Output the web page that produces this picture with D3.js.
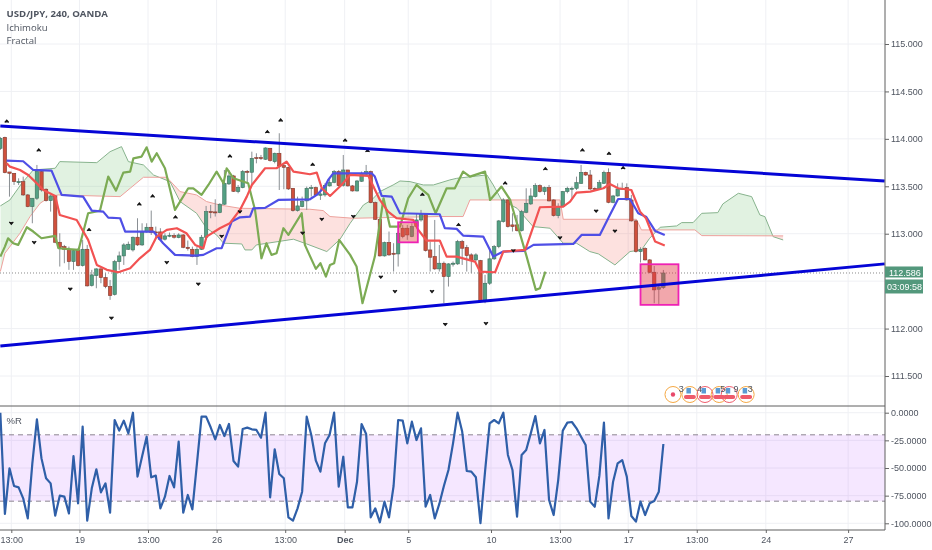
<!DOCTYPE html>
<html>
<meta charset="utf-8">
<head>
  <script src="https://d3js.org/d3.v7.min.js"></script>
  <style>
  html, body { margin: 0; padding: 0; background: #fff; }
  svg { display: block; filter: blur(0.35px); }
  text { font-family: "Liberation Sans", Arial, sans-serif; fill: #4f5560; }
  .legend { font-family: "Open Sans", sans-serif; font-size: 9.6px; }
  .axis text { font-size: 9px; }
  .axis .tick line { stroke: #666; }
  .axis .domain { display: none; }
  .grid line { stroke: #eff0f4; stroke-width: 1; }
  .thick { fill: none; stroke-width: 2.2; stroke-linejoin: round; }
  .thin { fill: none; stroke-width: 1; }
  </style>
</head>
<body>
<svg id="chart" width="932" height="550"></svg>
<script>

var title = "USD/JPY, 240, OANDA"
var studies = ["Ichimoku", "Fractal"]
var lastPrice = 112.586
var countdown = "03:09:58"

/* 4h candles, one per bar */
var open = [113.90,114.016,113.651,113.637,113.546,113.549,113.409,113.286,113.374,113.655,
113.469,113.349,113.398,112.910,112.864,112.836,112.706,112.829,112.664,112.836,
112.454,112.559,112.629,112.538,112.443,112.359,112.706,112.766,112.836,112.829,
112.963,112.882,113.019,113.068,113.019,113.019,112.942,112.977,112.980,112.959,
112.987,112.857,112.836,112.759,112.836,112.963,113.233,113.230,113.223,113.311,
113.525,113.609,113.444,113.486,113.658,113.648,113.802,113.802,113.785,113.901,
113.760,113.848,113.718,113.700,113.479,113.244,113.286,113.346,113.476,113.486,
113.405,113.409,113.504,113.542,113.655,113.511,113.672,113.504,113.451,113.553,
113.627,113.655,113.328,113.152,112.766,112.907,112.794,112.787,113.058,113.058,
112.970,113.075,113.145,113.205,112.829,112.759,112.629,112.689,112.548,112.678,
112.682,112.917,112.854,112.777,112.724,112.717,112.292,112.478,112.735,112.864,
113.128,113.356,113.093,113.093,113.033,113.226,113.314,113.391,113.507,113.444,
113.486,113.356,113.191,113.286,113.444,113.472,113.479,113.531,113.647,113.619,
113.479,113.472,113.531,113.647,113.331,113.398,113.472,113.486,113.356,113.135,
112.812,112.843,112.724,112.594,112.415,112.432]
var close = [114.006,113.644,113.637,113.549,113.549,113.409,113.286,113.374,113.655,113.461,
113.349,113.398,112.910,112.854,112.836,112.706,112.822,112.664,112.836,112.450,
112.566,112.629,112.538,112.443,112.348,112.706,112.766,112.882,112.889,112.963,
112.882,113.015,113.068,113.015,113.012,112.942,112.977,112.984,112.963,112.987,
112.857,112.843,112.759,112.836,112.963,113.233,113.223,113.219,113.311,113.532,
113.609,113.447,113.490,113.655,113.648,113.795,113.792,113.792,113.904,113.771,
113.848,113.714,113.700,113.472,113.244,113.293,113.339,113.479,113.486,113.409,
113.419,113.507,113.539,113.655,113.507,113.672,113.504,113.451,113.556,113.637,
113.655,113.328,113.152,112.766,112.907,112.777,112.787,113.005,112.970,112.987,
113.075,113.145,113.205,112.822,112.752,112.629,112.689,112.548,112.682,112.689,
112.917,112.847,112.770,112.724,112.777,112.292,112.478,112.735,112.864,113.135,
113.356,113.075,113.075,113.033,113.233,113.321,113.398,113.507,113.444,113.486,
113.346,113.191,113.286,113.444,113.479,113.479,113.538,113.647,113.619,113.472,
113.468,113.538,113.647,113.331,113.398,113.472,113.479,113.356,113.135,112.812,
112.836,112.724,112.594,112.408,112.432,112.586]
var high = [114.02,114.023,113.651,113.637,113.584,113.602,113.419,113.374,113.725,113.672,
113.479,113.409,113.409,113.005,112.882,112.864,112.836,112.847,112.935,112.882,
112.619,112.636,112.636,112.584,112.513,112.724,112.812,112.900,112.917,112.970,
113.163,113.110,113.110,113.244,113.075,113.058,113.005,113.012,113.005,113.005,
112.998,112.928,112.864,112.864,112.987,113.293,113.303,113.363,113.321,113.672,
113.672,113.620,113.514,113.672,113.672,113.865,113.848,113.830,113.911,113.904,
113.855,114.059,113.742,113.707,113.479,113.391,113.391,113.497,113.514,113.497,
113.479,113.532,113.584,113.672,113.672,113.830,113.672,113.514,113.567,113.655,
113.725,113.665,113.339,113.163,112.917,113.023,112.900,113.023,113.093,113.093,
113.110,113.216,113.251,113.205,112.917,113.145,112.882,112.707,112.689,112.707,
112.935,112.935,112.882,112.794,112.794,112.724,112.566,112.847,112.882,113.145,
113.374,113.363,113.216,113.198,113.251,113.479,113.479,113.532,113.521,113.497,
113.514,113.363,113.321,113.451,113.496,113.496,113.602,113.725,113.654,113.672,
113.489,113.567,113.665,113.689,113.409,113.531,113.538,113.531,113.409,113.145,
112.857,112.857,112.731,112.660,112.460,112.618]
var low = [113.883,113.637,113.391,113.514,113.514,113.398,113.279,113.110,113.356,113.444,
113.339,113.233,112.900,112.654,112.689,112.619,112.619,112.654,112.654,112.443,
112.443,112.425,112.478,112.425,112.303,112.348,112.619,112.671,112.829,112.812,
112.871,112.871,113.012,112.987,112.952,112.935,112.928,112.963,112.949,112.952,
112.847,112.822,112.752,112.671,112.829,112.935,113.163,113.181,113.216,113.303,
113.514,113.440,113.426,113.479,113.532,113.514,113.742,113.778,113.778,113.760,
113.742,113.461,113.469,113.461,113.233,113.233,113.279,113.251,113.391,113.398,
113.356,113.391,113.497,113.532,113.497,113.497,113.497,113.444,113.444,113.546,
113.620,113.321,113.145,112.759,112.759,112.766,112.601,112.654,112.952,112.935,
112.963,113.058,113.128,112.812,112.601,112.619,112.601,112.267,112.443,112.654,
112.671,112.671,112.601,112.584,112.706,112.285,112.267,112.460,112.724,112.847,
113.117,113.065,113.023,113.023,113.023,113.216,113.303,113.381,113.433,113.409,
113.339,113.181,113.163,113.279,113.426,113.373,113.461,113.524,113.609,113.461,
113.461,113.461,113.524,113.321,113.321,113.391,113.461,113.349,113.128,112.801,
112.696,112.717,112.583,112.267,112.260,112.418]

/* Williams %R, one per bar */
var willr = [0,-91.6,-50.3,-66.3,-67.5,-77.4,-95.5,-45.8,-6,-41.3,
-59.3,-63.9,-93.1,-75,-75.9,-91,-39.2,-81.9,-12.6,-97.6,
-68.4,-51.2,-72,-63.9,-90.4,-6.6,-16.2,-7.2,-18.7,0,
-57.8,-39.7,-21.7,-58.4,-56.9,-86.5,-75.9,-57.2,-67.5,-26.2,
-90.4,-74.4,-87.4,-45.8,-3.6,-3.6,-13.2,-24.1,-11.1,-21.1,
-10.2,-43.7,-48.8,-14.7,-13.5,-15,-15.6,-22.6,0,-76.5,
-33.1,-55.4,-59.3,-94.6,-97.6,-86.5,-71.4,-3.6,-20.1,-43.4,
-53.3,-27.7,-20.1,0,-66.9,-39.8,-85.6,-85.6,-62.4,-10.2,
-19.3,-94.6,-86.5,-99.1,-80.4,-94.6,-66.3,-6.6,-7.2,-27.7,
-8.1,-24.7,-14.1,-85,-74.4,-95.5,-82.5,-66.3,-51.8,-27.7,
0,-17.1,-52.7,-53.3,-58.4,-99.8,-53.3,-9.6,-6.6,-9.6,
0,-38.2,-51.8,-94,-38.2,-33.7,-18.7,-3,-27.7,-15.6,
-78.9,-92.5,-60.9,-16.2,-9,-8.4,-14.1,-21.7,-29.2,-80.4,
-85,-57.2,-9,-95.5,-62.4,-45.8,-42.8,-57.8,-93.4,-98.5,
-80.4,-92.5,-81.9,-79.9,-71.4,-28.3]

/* ichimoku lines, read at their turning points: [bar, price] */
var kijun = [[1.4,113.77],[5,113.764],[7.2,113.672],[11.2,113.665],[13.4,113.409],[18.1,113.391],[20,113.244],[22.5,113.233],[23.6,113.17],[26.2,113.163],[27.3,113.023],[33.5,113.023],[35.6,112.9],[38.2,112.777],[42.6,112.77],[44.4,112.777],[47.3,112.847],[48.4,112.847],[50.6,113.128],[52.4,113.173],[54.6,113.18],[55.3,113.268],[57.9,113.272],[60.8,113.356],[67.7,113.363],[69.2,113.409],[71,113.497],[71.7,113.567],[72.8,113.637],[81.2,113.637],[81.9,113.602],[83.4,113.398],[85.6,113.391],[87.4,113.216],[96.1,113.205],[97.2,113.058],[99.8,113.051],[101.2,112.98],[105.6,112.97],[107.8,112.759],[110,112.812],[114.4,112.819],[116.6,112.882],[125.3,112.892],[127.1,112.987],[131.1,112.987],[133.3,113.198],[135.1,113.366],[137.7,113.366],[139.5,113.215],[141.2,113.18],[143.2,113.029],[145.3,112.987]]
var tenkan = [[1.4,113.742],[2.1,113.707],[4.3,113.672],[6.1,113.619],[7.6,113.549],[9.4,113.461],[12,113.398],[13,113.198],[16.7,113.145],[19.2,112.935],[21.1,112.671],[23.3,112.619],[25.8,112.594],[28.4,112.636],[30.5,112.741],[32.7,112.829],[34.2,112.97],[36.4,113.04],[38.6,113.058],[40.7,113.005],[42.6,112.882],[44.4,112.847],[45.1,112.97],[48,113.058],[50.2,113.11],[52.4,113.251],[53.9,113.391],[55,113.514],[57.9,113.69],[60.4,113.69],[62.6,113.76],[64.1,113.655],[67.7,113.627],[69.2,113.644],[70.3,113.479],[72.1,113.398],[74.6,113.514],[76.5,113.62],[80.5,113.609],[83,113.356],[84.8,113.233],[86.7,113.163],[90.3,113.145],[91.4,113.04],[93.2,112.928],[96.1,112.928],[97.6,112.759],[99.8,112.759],[103.8,112.706],[104.9,112.601],[108.2,112.594],[110,112.812],[114.8,112.829],[117.3,113.181],[118,113.279],[123.1,113.286],[124.6,113.338],[126,113.433],[129,113.444],[131.9,113.479],[133.3,113.524],[135.1,113.479],[138,113.461],[139.9,113.233],[141.2,113.163],[143.2,112.917],[145.3,112.875]]
var chikou = [[0,112.759],[1,112.864],[1.7,112.952],[2.8,112.9],[3.9,112.882],[5.8,113.068],[7.2,113.023],[9,112.952],[12,112.977],[12.7,112.847],[17.1,112.829],[19.2,113.216],[21.8,113.244],[23.6,113.602],[25.3,113.454],[26.9,113.644],[28.4,113.655],[29.1,113.795],[30.9,113.813],[32,113.911],[33.1,113.76],[34.2,113.848],[36,113.69],[38.2,113.251],[41.1,113.479],[42.2,113.479],[44,113.409],[45.5,113.514],[47.3,113.655],[48.8,113.532],[49.5,113.69],[51,113.584],[54.2,113.532],[55.7,113.251],[57.1,112.741],[58.2,112.9],[59.3,112.777],[60.4,112.794],[61.9,113.058],[63,112.987],[65.9,113.216],[66.6,112.882],[69,112.629],[70,112.689],[71.2,112.548],[72.1,112.671],[73,112.689],[74.1,112.935],[76.5,112.777],[77.9,112.654],[79.2,112.267],[81.9,112.759],[83.8,113.374],[85.2,113.075],[87.4,113.075],[89.2,113.374],[91,113.514],[93.6,113.409],[95.2,113.216],[97.6,113.479],[99.4,113.479],[101.2,113.655],[102.7,113.602],[106,113.655],[107.1,113.356],[109.6,113.497],[111.5,113.356],[115.1,112.759],[117.1,112.408],[118,112.425],[119.2,112.601]]
var senkouA = [[0,113.293],[2.1,113.356],[4.7,113.532],[7.2,113.672],[12,113.69],[13,113.76],[21.1,113.749],[24,113.865],[26.5,113.918],[28,113.76],[31.3,113.725],[33.5,113.619],[37.1,113.549],[39.3,113.339],[42.9,113.216],[45.1,113.058],[47.3,112.987],[48.8,112.9],[52.8,112.892],[53.5,112.829],[55,112.829],[56,112.882],[64.1,112.942],[67,112.892],[71.4,112.812],[74.3,112.942],[76.5,113.11],[79.4,113.303],[81.2,113.356],[83,113.444],[85.9,113.514],[87.4,113.556],[89.6,113.549],[92.5,113.514],[94.7,113.514],[98.3,113.567],[99.8,113.584],[106.4,113.62],[107.8,113.514],[109.6,113.356],[113,113.268],[116.5,113.075],[120.2,113.058],[123.1,112.9],[126,112.9],[128.9,112.812],[130.8,112.787],[134.4,112.671],[137.7,112.812],[140.2,112.829],[142,112.952],[144.3,113.068],[147.9,113.082],[149,113.117],[151.5,113.117],[153.4,113.215],[156.9,113.222],[158,113.314],[161.4,113.426],[164.3,113.391],[166.1,113.198],[167.2,113.18],[169,112.969],[171.2,112.934]]
var senkouB = [[0,112.601],[1,112.794],[4.3,113.005],[6.5,113.181],[8.7,113.321],[10.9,113.391],[12.7,113.409],[26.2,113.391],[28.4,113.479],[31.3,113.595],[36.4,113.595],[39.3,113.444],[42.9,113.409],[45.1,113.339],[48,113.303],[52.4,113.268],[67.7,113.258],[70.6,113.244],[72.1,113.181],[77.2,113.163],[95.8,113.181],[101.2,113.181],[102.7,113.356],[122.4,113.356],[123.1,113.152],[139.1,113.152],[140.2,113.04],[151.9,113.04],[153.4,112.98],[171.2,112.977]]

/* fractal marks: [bar, price] */
var fractalUp = [[1.4,114.188],[8.4,113.883],[19.4,113.044],[30.4,113.314],[33.3,113.398],[38.3,113.177],[50.2,113.82],[58.4,114.076],[61.3,114.199],[68.3,113.732],[75.4,113.988],[80.3,113.876],[92.3,113.416],[100.2,113.096],[110.4,113.535],[119.2,113.686],[127.3,113.883],[133.1,113.848],[136.2,113.696]]
var fractalDown = [[2.4,113.11],[7.4,112.907],[15.3,112.415],[24.3,112.109],[36.4,112.696],[43.3,112.468],[48.4,112.973],[52.4,113.23],[66.1,113.005],[70.3,113.152],[77.2,113.181],[83.2,112.541],[86.3,112.39],[94.4,112.39],[97.3,112.043],[106.2,112.053],[112.2,112.819],[122.4,112.956],[130.3,113.237],[134.4,113.026]]

/* hand drawn objects */
var trendUpper = [[0,114.136],[193.4,113.556]]
var trendLower = [[0,111.817],[193.4,112.682]]
var boxes = [{x0:87,x1:91.3,top:113.121,bottom:112.909,fill:"rgba(226,80,70,0.45)"},
             {x0:140,x1:148.3,top:112.678,bottom:112.25,fill:"rgba(226,60,70,0.45)"}]

/* economic calendar bubbles */
var eventBars = [147.1,150.8,154.1,157.2,159.4,163.1]
var eventColors = ["#f4a742","#f4a742","#ee5a6a","#f4a742","#ee5a6a","#f4a742"]
var eventCounts = ["3","4","5","9","3"]
var eventCountBars = [148.9,152.9,158,160.9,164]

var priceTicks = [115.5,115,114.5,114,113.5,113,112.5,112,111.5]
var priceLabels = [115,114.5,114,113.5,113,112,111.5]
var willrTicks = [0,-25,-50,-75,-100]
var timeBars = [2.4,17.3,32.3,47.3,62.3,75.3,89.2,107.3,122.4,137.3,152.3,167.4,185.4]
var timeLabels = ["13:00","19","13:00","26","13:00","Dec","5","10","13:00","17","13:00","24","27"]

var W = 885, mainBottom = 406, subBottom = 530

var x = d3.scaleLinear().domain([0,193.4]).range([0.33,884.7])
var y = d3.scaleLinear().domain([115,111.5]).range([44,376])
var yR = d3.scaleLinear().domain([0,-100]).range([412.7,523.3])

var svg = d3.select("#chart")
var defs = svg.append("defs")

defs.append("clipPath").attr("id","mainClip").append("rect")
  .attr("width",W).attr("height",mainBottom)
defs.append("clipPath").attr("id","subClip").append("rect")
  .attr("y",mainBottom).attr("width",W).attr("height",subBottom-mainBottom)

// grid
var grid = svg.append("g").attr("class","grid")
grid.selectAll(".v").data(timeBars).enter().append("line")
  .attr("x1",x).attr("x2",x).attr("y1",0).attr("y2",subBottom)
grid.selectAll(".h").data(priceTicks).enter().append("line")
  .attr("x1",0).attr("x2",W).attr("y1",y).attr("y2",y)
grid.selectAll(".r").data(willrTicks).enter().append("line")
  .attr("x1",0).attr("x2",W).attr("y1",yR).attr("y2",yR)

var main = svg.append("g").attr("clip-path","url(#mainClip)")

// kumo: one polygon of both spans, coloured on each side of span B
var line = d3.line().x(function(d){return x(d[0])}).y(function(d){return y(d[1])})
var first = senkouB[0], last = senkouB[senkouB.length-1]
defs.append("clipPath").attr("id","aboveB").append("path")
  .attr("d", line(senkouB)+"L"+x(last[0])+",0L"+x(first[0])+",0Z")
defs.append("clipPath").attr("id","belowB").append("path")
  .attr("d", line(senkouB)+"L"+x(last[0])+","+mainBottom+"L"+x(first[0])+","+mainBottom+"Z")
var kumo = line(senkouA)+"L"+line(senkouB.slice().reverse()).slice(1)+"Z"
main.append("path").attr("d",kumo).attr("fill","#4caf50").attr("fill-opacity",0.17)
  .attr("fill-rule","evenodd").attr("clip-path","url(#aboveB)")
main.append("path").attr("d",kumo).attr("fill","#f44336").attr("fill-opacity",0.16)
  .attr("fill-rule","evenodd").attr("clip-path","url(#belowB)")
main.append("path").attr("class","thin").attr("d",line(senkouA)).attr("stroke","#86b28c")
main.append("path").attr("class","thin").attr("d",line(senkouB)).attr("stroke","#eda19c")

// last price dotted line
main.append("line").attr("x1",0).attr("x2",W).attr("y1",y(lastPrice)).attr("y2",y(lastPrice))
  .attr("stroke","#8a8a8a").attr("stroke-dasharray","1,2")

// candles
var candle = main.selectAll(".candle").data(d3.range(open.length)).enter().append("g")
candle.append("line")
  .attr("x1",x).attr("x2",x)
  .attr("y1",function(i){return y(high[i])}).attr("y2",function(i){return y(low[i])})
  .attr("stroke","#8a8f94")
candle.append("rect")
  .attr("x",function(i){return x(i)-1.7}).attr("width",3.4)
  .attr("y",function(i){return y(Math.max(open[i],close[i]))})
  .attr("height",function(i){return Math.max(1,Math.abs(y(open[i])-y(close[i])))})
  .attr("fill",function(i){return close[i]>=open[i]?"#53a083":"#d0503c"})
  .attr("stroke",function(i){return close[i]>=open[i]?"#3f6f5e":"#7d3b30"})
  .attr("stroke-width",0.6)

// ichimoku thick lines
main.append("path").attr("class","thick").attr("d",line(chikou)).attr("stroke","#7cab54")
main.append("path").attr("class","thick").attr("d",line(kijun)).attr("stroke","#4f4fe6")
main.append("path").attr("class","thick").attr("d",line(tenkan)).attr("stroke","#f25252")

// fractals
main.selectAll(".up").data(fractalUp).enter().append("path")
  .attr("d","M-2,1.4L0,-1L2,1.4").attr("fill","#222").attr("stroke","#111").attr("stroke-width",1.1)
  .attr("transform",function(d){return "translate("+x(d[0])+","+y(d[1])+")"})
main.selectAll(".down").data(fractalDown).enter().append("path")
  .attr("d","M-2,-1.4L0,1L2,-1.4").attr("fill","#222").attr("stroke","#111").attr("stroke-width",1.1)
  .attr("transform",function(d){return "translate("+x(d[0])+","+y(d[1])+")"})

// pink boxes
main.selectAll(".box").data(boxes).enter().append("rect")
  .attr("x",function(d){return x(d.x0)}).attr("width",function(d){return x(d.x1)-x(d.x0)})
  .attr("y",function(d){return y(d.top)}).attr("height",function(d){return y(d.bottom)-y(d.top)})
  .attr("fill",function(d){return d.fill})
  .attr("stroke","#ee22b4").attr("stroke-width",1.8)

// trend lines
main.append("path").attr("d",line(trendUpper)).attr("stroke","#0505d6").attr("stroke-width",3).attr("fill","none")
main.append("path").attr("d",line(trendLower)).attr("stroke","#0505d6").attr("stroke-width",3).attr("fill","none")

// calendar bubbles
var ev = main.selectAll(".ev").data(d3.range(eventBars.length)).enter().append("g")
  .attr("transform",function(i){return "translate("+x(eventBars[i])+",394.5)"})
ev.append("circle").attr("r",8).attr("fill","none")
  .attr("stroke",function(i){return eventColors[i]}).attr("stroke-width",1)
ev.filter(function(i){return i>0}).append("rect")
  .attr("x",-6).attr("y",0.5).attr("width",12).attr("height",4).attr("rx",2).attr("fill","#ee5a6a")
ev.filter(function(i){return i>0}).append("rect")
  .attr("x",-3.5).attr("y",-6.5).attr("width",4.5).attr("height",5.5).attr("fill","#5b9bd5")
ev.filter(function(i){return i==0}).append("circle").attr("r",2.2).attr("fill","#e8486a")
main.selectAll(".evc").data(eventCounts).enter().append("text")
  .attr("x",function(d,i){return x(eventCountBars[i])}).attr("y",392)
  .attr("text-anchor","middle").attr("font-size",9).text(function(d){return d})

// %R pane
var sub = svg.append("g").attr("clip-path","url(#subClip)")
sub.append("rect").attr("x",0).attr("width",W)
  .attr("y",yR(-20)).attr("height",yR(-80)-yR(-20)).attr("fill","#9915ff").attr("fill-opacity",0.1)
sub.selectAll(".band").data([-20,-80]).enter().append("line")
  .attr("x1",0).attr("x2",W).attr("y1",yR).attr("y2",yR)
  .attr("stroke","#8c8490").attr("stroke-dasharray","5,4")
sub.append("path").attr("class","thick")
  .attr("d",d3.line().x(function(d,i){return x(i)}).y(function(d){return yR(d)})(willr))
  .attr("stroke","#2f5fa8")

// frame
svg.append("line").attr("x1",0).attr("x2",W).attr("y1",mainBottom).attr("y2",mainBottom).attr("stroke","#5f5f5f")
svg.append("line").attr("x1",0).attr("x2",W).attr("y1",subBottom).attr("y2",subBottom).attr("stroke","#5f5f5f")
svg.append("line").attr("x1",W).attr("x2",W).attr("y1",0).attr("y2",subBottom).attr("stroke","#5f5f5f")

// axes
svg.append("g").attr("class","axis").attr("transform","translate("+W+",0)")
  .call(d3.axisRight(y).tickValues(priceLabels).tickSize(4).tickPadding(2).tickFormat(function(d){return d.toFixed(3)}))
svg.append("g").attr("class","axis").attr("transform","translate("+W+",0)")
  .call(d3.axisRight(yR).tickValues(willrTicks).tickSize(4).tickPadding(2).tickFormat(function(d){return d.toFixed(4)}))
var xAxis = svg.append("g").attr("class","axis").attr("transform","translate(0,"+subBottom+")")
  .call(d3.axisBottom(x).tickValues(timeBars).tickSize(3).tickPadding(4)
    .tickFormat(function(d,i){return timeLabels[i]}))
xAxis.selectAll("text").filter(function(d,i){return timeLabels[i]=="Dec"}).style("font-weight","bold")

// price labels
svg.append("rect").attr("x",W).attr("y",y(lastPrice)-6.5).attr("width",38).attr("height",11).attr("fill","#53987c")
svg.append("text").attr("x",W+4).attr("y",y(lastPrice)+3).attr("font-size",9).style("fill","#fff").text(lastPrice.toFixed(3))
svg.append("rect").attr("x",W).attr("y",y(lastPrice)+6.5).attr("width",38).attr("height",14).attr("fill","#53987c")
svg.append("text").attr("x",W+2).attr("y",y(lastPrice)+17).attr("font-size",9).style("fill","#fff").text(countdown)

// legend
svg.append("text").attr("class","legend").attr("x",6.5).attr("y",17).style("font-weight","bold").text(title)
svg.selectAll(".study").data(studies).enter().append("text").attr("class","legend")
  .attr("x",6.5).attr("y",function(d,i){return 30.5+i*13}).text(function(d){return d})
svg.append("text").attr("x",6.5).attr("y",424).attr("font-size",9.5).text("%R")

</script>
</body>
</html>
